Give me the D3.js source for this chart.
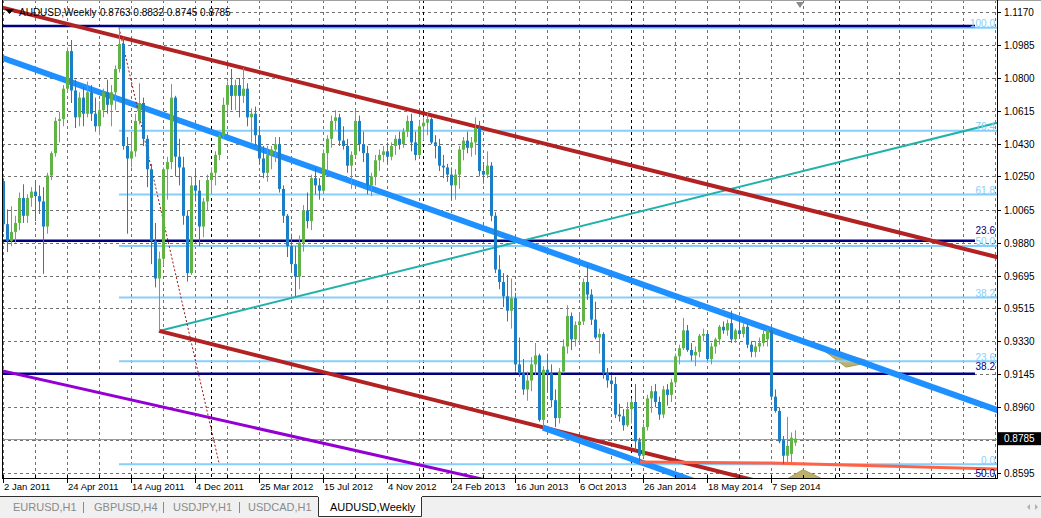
<!DOCTYPE html>
<html><head><meta charset="utf-8">
<script src="https://cdn.jsdelivr.net/npm/d3@7"></script>
<style>
html,body{margin:0;padding:0;background:#fff;}
svg{display:block;font-family:"Liberation Sans",Arial,sans-serif;}
</style></head><body>
<svg id="c" width="1041" height="518"></svg>
<script>
// ---------------- DATA ----------------
const symbolTitle = "AUDUSD,Weekly";
const headerValues = ["0.8763", "0.8832", "0.8745", "0.8785"];

// weekly candles, index 0 = week of 2 Jan 2011
const openP = [1.0223,0.9983,0.9890,0.9940,0.9990,1.0130,1.0030,1.0130,1.0165,1.0140,
1.0110,0.9970,1.0255,1.0380,1.0560,1.0570,1.0740,1.0950,1.0730,1.0580,
1.0690,1.0600,1.0720,1.0600,1.0530,1.0620,1.0720,1.0650,1.0720,1.0850,
1.0990,1.0420,1.0350,1.0390,1.0560,1.0660,1.0460,1.0290,0.9890,0.9680,
0.9790,1.0290,1.0330,1.0690,1.0360,1.0300,1.0030,0.9710,1.0200,1.0170,
0.9970,1.0110,1.0230,1.0270,1.0370,1.0480,1.0650,1.0760,1.0700,1.0760,
1.0700,1.0740,1.0580,1.0600,1.0480,1.0350,1.0270,1.0370,1.0400,1.0430,
1.0180,1.0030,0.9860,0.9760,0.9690,0.9880,1.0060,1.0000,1.0240,1.0200,
1.0170,1.0380,1.0460,1.0560,1.0580,1.0450,1.0420,1.0310,1.0370,1.0560,
1.0430,1.0380,1.0200,1.0250,1.0340,1.0370,1.0390,1.0360,1.0420,1.0460,
1.0430,1.0500,1.0560,1.0440,1.0370,1.0530,1.0550,1.0570,1.0440,1.0420,
1.0310,1.0300,1.0260,1.0200,1.0260,1.0400,1.0450,1.0410,1.0440,1.0520,
1.0280,1.0260,1.0310,1.0030,0.9730,0.9660,0.9580,0.9500,0.9570,0.9200,
0.9150,0.9060,0.9110,0.9200,0.9250,0.8890,0.9170,0.9150,0.9000,0.8900,
0.9160,0.9300,0.9470,0.9340,0.9420,0.9440,0.9660,0.9590,0.9450,0.9350,
0.9370,0.9150,0.9110,0.9090,0.8920,0.8910,0.8860,0.8950,0.8990,0.8770,
0.8690,0.8850,0.9010,0.9050,0.8990,0.8920,0.9060,0.9030,0.9100,0.9245,
0.9290,0.9390,0.9280,0.9250,0.9270,0.9360,0.9370,0.9230,0.9300,0.9340,
0.9410,0.9390,0.9430,0.9340,0.9390,0.9370,0.9410,0.9310,0.9270,0.9300,
0.9320,0.9340,0.9390,0.9020,0.8940,0.8780,0.8690,0.8700,0.8763];
const highP = [1.0240,1.0066,1.0083,1.0030,1.0160,1.0206,1.0150,1.0190,1.0230,1.0200,
1.0190,1.0270,1.0390,1.0580,1.0610,1.0760,1.0970,1.1012,1.0790,1.0720,
1.0750,1.0780,1.0760,1.0690,1.0670,1.0740,1.0790,1.0760,1.0870,1.1081,
1.1030,1.0470,1.0490,1.0600,1.0770,1.0690,1.0480,1.0320,0.9990,0.9830,
1.0300,1.0360,1.0766,1.0700,1.0460,1.0360,1.0060,1.0250,1.0280,1.0230,
1.0130,1.0260,1.0300,1.0390,1.0490,1.0690,1.0780,1.0850,1.0790,1.0800,
1.0856,1.0770,1.0630,1.0640,1.0530,1.0420,1.0420,1.0420,1.0470,1.0470,
1.0200,1.0040,0.9930,0.9860,0.9920,1.0090,1.0160,1.0260,1.0300,1.0240,
1.0400,1.0480,1.0590,1.0620,1.0600,1.0530,1.0460,1.0390,1.0620,1.0590,
1.0500,1.0420,1.0270,1.0370,1.0400,1.0420,1.0440,1.0440,1.0480,1.0500,
1.0520,1.0590,1.0600,1.0500,1.0560,1.0580,1.0600,1.0580,1.0480,1.0460,
1.0370,1.0320,1.0300,1.0290,1.0420,1.0470,1.0500,1.0470,1.0580,1.0560,
1.0330,1.0390,1.0330,1.0050,0.9810,0.9710,0.9700,0.9680,0.9600,0.9350,
0.9230,0.9160,0.9240,0.9320,0.9260,0.9190,0.9260,0.9200,0.9060,0.9180,
0.9340,0.9530,0.9490,0.9440,0.9490,0.9680,0.9757,0.9620,0.9550,0.9400,
0.9380,0.9180,0.9140,0.9130,0.8980,0.8950,0.8990,0.9010,0.9090,0.8790,
0.8870,0.9030,0.9080,0.9090,0.9020,0.9080,0.9090,0.9120,0.9260,0.9310,
0.9460,0.9420,0.9320,0.9300,0.9370,0.9400,0.9380,0.9320,0.9350,0.9420,
0.9440,0.9450,0.9500,0.9400,0.9460,0.9430,0.9430,0.9330,0.9330,0.9350,
0.9390,0.9400,0.9400,0.9060,0.8960,0.8800,0.8907,0.8820,0.8832];
const lowP = [0.9940,0.9827,0.9860,0.9880,0.9950,0.9990,0.9990,1.0080,1.0000,1.0040,
0.9706,0.9930,1.0230,1.0360,1.0440,1.0530,1.0720,1.0660,1.0520,1.0530,
1.0530,1.0580,1.0560,1.0500,1.0480,1.0580,1.0600,1.0530,1.0620,1.0830,
1.0400,0.9930,1.0300,1.0360,1.0540,1.0420,1.0190,0.9760,0.9630,0.9387,
0.9750,1.0120,1.0290,1.0250,1.0200,0.9980,0.9663,0.9700,1.0110,0.9860,
0.9910,1.0060,1.0150,1.0200,1.0340,1.0460,1.0600,1.0620,1.0620,1.0580,
1.0660,1.0530,1.0440,1.0420,1.0320,1.0240,1.0220,1.0290,1.0330,1.0160,
0.9990,0.9800,0.9720,0.9581,0.9620,0.9830,0.9960,0.9950,1.0150,1.0120,
1.0160,1.0280,1.0410,1.0510,1.0420,1.0400,1.0270,1.0180,1.0360,1.0390,
1.0330,1.0150,1.0140,1.0200,1.0280,1.0330,1.0320,1.0340,1.0370,1.0400,
1.0410,1.0470,1.0390,1.0340,1.0360,1.0450,1.0480,1.0430,1.0350,1.0280,
1.0240,1.0220,1.0120,1.0120,1.0180,1.0340,1.0380,1.0360,1.0370,1.0250,
1.0210,1.0240,1.0000,0.9710,0.9620,0.9520,0.9440,0.9400,0.9160,0.9130,
0.9030,0.8997,0.9050,0.9140,0.8880,0.8847,0.9050,0.8960,0.8850,0.8870,
0.9150,0.9260,0.9280,0.9300,0.9320,0.9420,0.9560,0.9420,0.9340,0.9260,
0.9120,0.9070,0.9040,0.8900,0.8880,0.8830,0.8850,0.8870,0.8720,0.8660,
0.8680,0.8830,0.8930,0.8960,0.8890,0.8900,0.8970,0.8990,0.9080,0.9200,
0.9280,0.9270,0.9220,0.9190,0.9240,0.9330,0.9220,0.9200,0.9260,0.9310,
0.9370,0.9360,0.9320,0.9320,0.9350,0.9350,0.9290,0.9240,0.9240,0.9270,
0.9300,0.9300,0.9000,0.8930,0.8760,0.8642,0.8650,0.8650,0.8745];
const closeP = [0.9983,0.9890,0.9940,0.9990,1.0130,1.0030,1.0130,1.0165,1.0140,1.0110,
0.9970,1.0255,1.0380,1.0560,1.0570,1.0740,1.0950,1.0730,1.0580,1.0690,
1.0600,1.0720,1.0600,1.0530,1.0620,1.0720,1.0650,1.0720,1.0850,1.0990,
1.0420,1.0350,1.0390,1.0560,1.0660,1.0460,1.0290,0.9890,0.9680,0.9790,
1.0290,1.0330,1.0690,1.0360,1.0300,1.0030,0.9710,1.0200,1.0170,0.9970,
1.0110,1.0230,1.0270,1.0370,1.0480,1.0650,1.0760,1.0700,1.0760,1.0700,
1.0740,1.0580,1.0600,1.0480,1.0350,1.0270,1.0370,1.0400,1.0430,1.0180,
1.0030,0.9860,0.9760,0.9690,0.9880,1.0060,1.0000,1.0240,1.0200,1.0170,
1.0380,1.0460,1.0560,1.0580,1.0450,1.0420,1.0310,1.0370,1.0560,1.0430,
1.0380,1.0200,1.0250,1.0340,1.0370,1.0390,1.0360,1.0420,1.0460,1.0430,
1.0500,1.0560,1.0440,1.0370,1.0530,1.0550,1.0570,1.0440,1.0420,1.0310,
1.0300,1.0260,1.0200,1.0260,1.0400,1.0450,1.0410,1.0440,1.0520,1.0280,
1.0260,1.0310,1.0030,0.9730,0.9660,0.9580,0.9500,0.9570,0.9200,0.9150,
0.9060,0.9110,0.9200,0.9250,0.8890,0.9170,0.9150,0.9000,0.8900,0.9160,
0.9300,0.9470,0.9340,0.9420,0.9440,0.9660,0.9590,0.9450,0.9350,0.9370,
0.9150,0.9110,0.9090,0.8920,0.8910,0.8860,0.8950,0.8990,0.8770,0.8690,
0.8850,0.9010,0.9050,0.8990,0.8920,0.9060,0.9030,0.9100,0.9245,0.9290,
0.9390,0.9280,0.9250,0.9270,0.9360,0.9370,0.9230,0.9300,0.9340,0.9410,
0.9390,0.9430,0.9340,0.9390,0.9370,0.9410,0.9310,0.9270,0.9300,0.9320,
0.9370,0.9390,0.9020,0.8940,0.8770,0.8690,0.8745,0.8790,0.8785];

const priceTicks = [1.1170,1.0985,1.0800,1.0615,1.0430,1.0250,1.0065,0.9880,0.9695,0.9515,0.9330,0.9145,0.8960,0.8775,0.8595];
const priceTickLabels = ["1.1170","1.0985","1.0800","1.0615","1.0430","1.0250","1.0065","0.9880","0.9695","0.9515","0.9330","0.9145","0.8960","0.8775","0.8595"];
const dateTickIndex = [0,16,32,48,64,80,96,112,128,144,160,176,192];
const dateTickLabels = ["2 Jan 2011","24 Apr 2011","14 Aug 2011","4 Dec 2011","25 Mar 2012","15 Jul 2012","4 Nov 2012","24 Feb 2013","16 Jun 2013","6 Oct 2013","26 Jan 2014","18 May 2014","7 Sep 2014"];
const gridStepWeeks = 8;
const yearStartIndex = [52,105,157,209];
const bidPrice = 0.8785;

// trend lines: anchors (week index, price) and the drawn index span
const trendNames = ["purple","teal","upperRed","lowerRed","upperBlue","lowerBlue","dotted"];
const trendAnchors = {
  purple:   [[0,0.9163],[200,0.8155]],
  teal:     [[39,0.9387],[200,1.0280]],
  upperRed: [[0,1.1192],[200,1.0071]],
  lowerRed: [[39,0.9387],[200,0.8484]],
  upperBlue:[[0,1.0911],[200,0.9329]],
  lowerBlue:[[135,0.8847],[200,0.8333]],
  dotted:   [[29,1.1081],[54,0.8649]]
};
const trendSpan = {
  purple:[-1,250], teal:[39,250], upperRed:[-1,250], lowerRed:[39,250],
  upperBlue:[-1,250], lowerBlue:[135,250], dotted:[29,54]
};
const orangePath = [[159.25,0.8655],[192,0.8649],[249,0.8616]];
const khakiTriangles = [
  [[203.75,0.9302],[217.25,0.9213],[210.75,0.9185]],
  [[194.5,0.8540],[200,0.8612],[206.75,0.8540]]
];
// Fibonacci sets
const fibLightLevels = [0,23.6,38.2,50,61.8,76.4,100];
const fibLightHigh = 1.1081, fibLightLow = 0.8642, fibLightStart = 29;
const fibNavyLevels = [0,23.6,38.2,50];
const fibNavyLabelled = [23.6,38.2,50];
const fibNavy0 = 1.1090, fibNavy100 = 0.6005, fibNavySpan = [-1,243];

const tabNames = ["EURUSD,H1","GBPUSD,H4","USDJPY,H1","USDCAD,H1"];

// ---------------- DRAW ----------------
const svg = d3.select("#c");
const L = 2, R = 997, T = 0, B = 478;
const x = d3.scaleLinear().domain([0, 248.5]).range([3, 997]);
const y = d3.scaleLinear().domain([0.8595, 1.1170]).range([472.7, 11.7]);
const rnd = v => Math.round(v) + 0.5;

svg.append("rect").attr("width",1041).attr("height",518).attr("fill","#fff");
svg.append("defs").append("clipPath").attr("id","plot")
  .append("rect").attr("x",L+1).attr("y",T+1).attr("width",R-L-1).attr("height",B-T-1);

const grid = svg.append("g").attr("clip-path","url(#plot)");
priceTicks.forEach(p=>{
  grid.append("line").attr("x1",L).attr("x2",R).attr("y1",rnd(y(p))).attr("y2",rnd(y(p)))
    .attr("stroke","#707070").attr("stroke-dasharray","3,3");
});
d3.range(0, 250, gridStepWeeks).forEach(i=>{
  grid.append("line").attr("x1",rnd(x(i))).attr("x2",rnd(x(i))).attr("y1",T).attr("y2",B)
    .attr("stroke","#707070").attr("stroke-dasharray","3,3");
});
yearStartIndex.forEach(i=>{
  grid.append("line").attr("x1",rnd(x(i))).attr("x2",rnd(x(i))).attr("y1",T).attr("y2",B)
    .attr("stroke","#000").attr("stroke-dasharray","3,3");
});

const obj = svg.append("g").attr("clip-path","url(#plot)");
khakiTriangles.forEach(tri=>{
  obj.append("polygon").attr("points", tri.map(d=>[x(d[0]),y(d[1])].join(",")).join(" "))
    .attr("fill","#bdb06a").attr("stroke","#a89a50").attr("stroke-width",1);
});
fibLightLevels.forEach(lv=>{
  const p = fibLightLow + lv/100*(fibLightHigh-fibLightLow);
  obj.append("line").attr("x1",x(fibLightStart)).attr("x2",R).attr("y1",y(p)).attr("y2",y(p))
    .attr("stroke","#87cefa").attr("stroke-width",2);
});
fibNavyLevels.forEach(lv=>{
  const p = fibNavy0 + lv/100*(fibNavy100-fibNavy0);
  obj.append("line").attr("x1",x(fibNavySpan[0])).attr("x2",x(fibNavySpan[1])).attr("y1",y(p)).attr("y2",y(p))
    .attr("stroke","#000080").attr("stroke-width",2.5);
});
obj.append("line").attr("x1",L).attr("x2",R).attr("y1",rnd(y(bidPrice))).attr("y2",rnd(y(bidPrice)))
  .attr("stroke","#9a9a9a").attr("stroke-width",1);

const trendStyle = {
  purple:{c:"#9400d3",w:3}, teal:{c:"#20b2aa",w:2}, upperRed:{c:"#b22222",w:4}, lowerRed:{c:"#b22222",w:4},
  upperBlue:{c:"#1e90ff",w:6}, lowerBlue:{c:"#1e90ff",w:6}, dotted:{c:"#a01010",w:1,dash:"2,2"}
};
trendNames.forEach(n=>{
  const [[i1,p1],[i2,p2]] = trendAnchors[n];
  const f = i => p1 + (p2-p1)*(i-i1)/(i2-i1);
  const [a,b] = trendSpan[n];
  const s = trendStyle[n];
  const ln = obj.append("line").attr("x1",x(a)).attr("y1",y(f(a))).attr("x2",x(b)).attr("y2",y(f(b)))
    .attr("stroke",s.c).attr("stroke-width",s.w);
  if (s.dash) ln.attr("stroke-dasharray",s.dash);
});
obj.append("path").attr("d", d3.line().x(d=>x(d[0])).y(d=>y(d[1]))(orangePath))
  .attr("fill","none").attr("stroke","#ff6347").attr("stroke-width",3);

// candles
const cg = svg.append("g").attr("clip-path","url(#plot)");
const bull = "#62b346", bear = "#1c7ec4";
openP.forEach((o,i)=>{
  const c = closeP[i], h = highP[i], l = lowP[i];
  const col = c >= o ? bull : bear;
  const cx = Math.round(x(i));
  cg.append("line").attr("x1",cx+0.5).attr("x2",cx+0.5).attr("y1",y(h)).attr("y2",y(l))
    .attr("stroke",col).attr("stroke-width",1);
  const top = y(Math.max(o,c)), bot = y(Math.min(o,c));
  cg.append("rect").attr("x",cx-1).attr("width",3).attr("y",top).attr("height",Math.max(1,bot-top))
    .attr("fill",col);
});

// fib labels (navy labels nudged up when they would collide with a light label)
const lab = svg.append("g").attr("clip-path","url(#plot)").attr("font-size",10).attr("text-anchor","end");
const lightBase = [];
fibLightLevels.forEach(lv=>{
  const p = fibLightLow + lv/100*(fibLightHigh-fibLightLow);
  const yy = y(p)-0.5;
  lightBase.push(yy);
  lab.append("text").attr("x",995).attr("y",yy).attr("fill","#87cefa").text(lv.toFixed(1));
});
fibNavyLabelled.forEach(lv=>{
  const p = fibNavy0 + lv/100*(fibNavy100-fibNavy0);
  let yy = Math.min(y(p)-4, 477);
  lightBase.forEach(lb=>{ if (lb > yy && lb - yy < 11.5) yy = lb - 11.5; });
  lab.append("text").attr("x",995).attr("y",yy).attr("fill","#000080").text(lv.toFixed(1));
});

// frame
svg.append("line").attr("x1",L).attr("x2",1041).attr("y1",0.5).attr("y2",0.5).attr("stroke","#a0a0a0");
svg.append("line").attr("x1",L+0.5).attr("x2",L+0.5).attr("y1",0).attr("y2",B).attr("stroke","#000");
svg.append("line").attr("x1",R+0.5).attr("x2",R+0.5).attr("y1",0).attr("y2",B+1).attr("stroke","#000");
svg.append("line").attr("x1",L).attr("x2",R).attr("y1",B+0.5).attr("y2",B+0.5).attr("stroke","#000");

// right axis
const ax = svg.append("g").attr("font-size",10).attr("fill","#000");
priceTicks.forEach((p,k)=>{
  const yy = rnd(y(p));
  ax.append("line").attr("x1",R).attr("x2",R+4).attr("y1",yy).attr("y2",yy).attr("stroke","#000");
  ax.append("text").attr("x",1004).attr("y",yy+3.5).text(priceTickLabels[k]);
});
const by = y(bidPrice);
ax.append("rect").attr("x",998).attr("y",by-6.5).attr("width",43).attr("height",13).attr("fill","#000");
ax.append("text").attr("x",1004).attr("y",by+3.5).attr("fill","#fff").text(bidPrice.toFixed(4));

// bottom axis
const bx = svg.append("g").attr("font-size",9.5);
d3.range(0, 250, gridStepWeeks).forEach(i=>{
  bx.append("line").attr("x1",rnd(x(i))).attr("x2",rnd(x(i))).attr("y1",B).attr("y2",B-3).attr("stroke","#000");
});
dateTickIndex.forEach((i,k)=>{
  bx.append("line").attr("x1",rnd(x(i))).attr("x2",rnd(x(i))).attr("y1",B).attr("y2",B+5).attr("stroke","#000");
  bx.append("text").attr("x",x(i)+1).attr("y",490).text(dateTickLabels[k]);
});

// header
const hd = svg.append("g").attr("font-size",10);
hd.append("polygon").attr("points","5,9 14,9 9.5,14").attr("fill","#000");
hd.append("text").attr("x",19).attr("y",16).text(symbolTitle);
hd.append("text").attr("x",100).attr("y",16).text(headerValues.join(" "));
svg.append("polygon").attr("points","796,2 804,2 800,8").attr("fill","#8a8a8a");

// tab bar
svg.append("rect").attr("x",0).attr("y",497).attr("width",1041).attr("height",21).attr("fill","#f0f0f0");
svg.append("line").attr("x1",0).attr("x2",1041).attr("y1",496.5).attr("y2",496.5).attr("stroke","#303030");
const tb = svg.append("g").attr("font-size",11);
const tabX = [13,94,173,248], sepX = [83,163,239];
tabNames.forEach((t,k)=> tb.append("text").attr("x",tabX[k]).attr("y",511).attr("fill","#8a8a8a").text(t));
sepX.forEach(s=> tb.append("line").attr("x1",s+0.5).attr("x2",s+0.5).attr("y1",502).attr("y2",513).attr("stroke","#8a8a8a"));
tb.append("rect").attr("x",318).attr("y",496).attr("width",104).attr("height",20).attr("fill","#fff");
tb.append("path").attr("d","M318.5,497V516.5H421.5V497").attr("fill","none").attr("stroke","#303030");
tb.append("text").attr("x",330).attr("y",511).attr("fill","#000").text(symbolTitle);
svg.append("polygon").attr("points","1030,504 1030,510 1027,507").attr("fill","#b0b0b0");
svg.append("polygon").attr("points","1035,504 1035,510 1038,507").attr("fill","#b0b0b0");
</script>
</body></html>
